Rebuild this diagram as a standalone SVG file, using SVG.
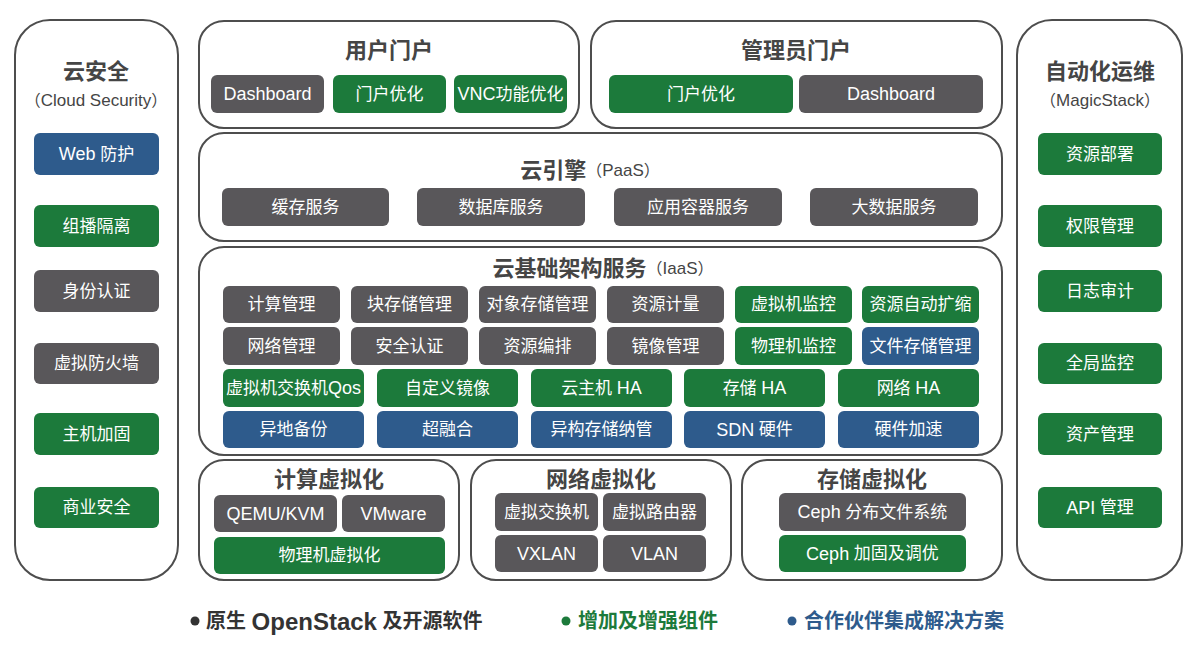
<svg xmlns="http://www.w3.org/2000/svg" width="1200" height="649" viewBox="0 0 1200 649">
<style>
text{font-family:"Liberation Sans","Noto Sans CJK SC",sans-serif;}
.panel{fill:#fff;stroke:#4d4d4d;stroke-width:2;}
.g{fill:#59575a;}
.gr{fill:#1c7a3b;}
.bl{fill:#2e5b8c;}
.bt{fill:#fff;font-size:17px;text-anchor:middle;dominant-baseline:central;}
.l{font-size:18px;}
.ttl{fill:#454545;font-size:22px;font-weight:bold;text-anchor:middle;dominant-baseline:central;}
.sub{fill:#454545;font-size:16px;font-weight:normal;}
.sl{font-size:17px;}
.leg{font-size:20px;font-weight:bold;dominant-baseline:central;}
</style>
<rect width="1200" height="649" fill="#fff"/>
<g id="connectors"/>

<g id="cloud-security">
<rect class="panel" x="15" y="20" width="163" height="560" rx="35"/>
<text class="ttl" x="96" y="71">云安全</text>
<text class="ttl sub" x="96" y="100">（<tspan class="sl">Cloud Security</tspan>）</text>
<rect class="bl" x="34" y="133" width="125" height="42" rx="6"/><text class="bt" x="96.5" y="154"><tspan class="l">Web</tspan> 防护</text>
<rect class="gr" x="34" y="205" width="125" height="42" rx="6"/><text class="bt" x="96.5" y="226">组播隔离</text>
<rect class="g" x="34" y="270" width="125" height="42" rx="6"/><text class="bt" x="96.5" y="291">身份认证</text>
<rect class="g" x="34" y="343" width="125" height="41" rx="6"/><text class="bt" x="96.5" y="363.5">虚拟防火墙</text>
<rect class="gr" x="34" y="413" width="125" height="42" rx="6"/><text class="bt" x="96.5" y="434">主机加固</text>
<rect class="gr" x="34" y="487" width="125" height="41" rx="6"/><text class="bt" x="96.5" y="507.5">商业安全</text>
</g>

<g id="automation">
<rect class="panel" x="1017" y="20" width="165" height="560" rx="35"/>
<text class="ttl" x="1100" y="71">自动化运维</text>
<text class="ttl sub" x="1100" y="100">（<tspan class="sl">MagicStack</tspan>）</text>
<rect class="gr" x="1038" y="133" width="124" height="42" rx="6"/><text class="bt" x="1100" y="154">资源部署</text>
<rect class="gr" x="1038" y="205" width="124" height="42" rx="6"/><text class="bt" x="1100" y="226">权限管理</text>
<rect class="gr" x="1038" y="270" width="124" height="42" rx="6"/><text class="bt" x="1100" y="291">日志审计</text>
<rect class="gr" x="1038" y="343" width="124" height="41" rx="6"/><text class="bt" x="1100" y="363.5">全局监控</text>
<rect class="gr" x="1038" y="413" width="124" height="42" rx="6"/><text class="bt" x="1100" y="434">资产管理</text>
<rect class="gr" x="1038" y="487" width="124" height="41" rx="6"/><text class="bt" x="1100" y="507.5"><tspan class="l">API</tspan> 管理</text>
</g>

<g id="user-portal">
<rect class="panel" x="199" y="21" width="380" height="107" rx="25"/>
<text class="ttl" x="389" y="50">用户门户</text>
<rect class="g" x="211" y="75" width="113" height="38" rx="6"/><text class="bt l" x="267.5" y="94">Dashboard</text>
<rect class="gr" x="333" y="75" width="113" height="38" rx="6"/><text class="bt" x="389.5" y="94">门户优化</text>
<rect class="gr" x="454" y="75" width="113" height="38" rx="6"/><text class="bt" x="510.5" y="94"><tspan class="l">VNC</tspan>功能优化</text>
</g>

<g id="admin-portal">
<rect class="panel" x="591" y="21" width="411" height="107" rx="25"/>
<text class="ttl" x="796" y="50">管理员门户</text>
<rect class="gr" x="609" y="75" width="184" height="38" rx="6"/><text class="bt" x="701" y="94">门户优化</text>
<rect class="g" x="799" y="75" width="184" height="38" rx="6"/><text class="bt l" x="891" y="94">Dashboard</text>
</g>

<g id="paas">
<rect class="panel" x="199" y="133" width="803" height="108" rx="25"/>
<text class="ttl" x="590" y="170">云引擎<tspan class="sub">（<tspan class="sl">PaaS</tspan>）</tspan></text>
<rect class="g" x="222" y="188" width="167" height="38" rx="6"/><text class="bt" x="305.5" y="207">缓存服务</text>
<rect class="g" x="417" y="188" width="168" height="38" rx="6"/><text class="bt" x="501" y="207">数据库服务</text>
<rect class="g" x="614" y="188" width="168" height="38" rx="6"/><text class="bt" x="698" y="207">应用容器服务</text>
<rect class="g" x="810" y="188" width="168" height="38" rx="6"/><text class="bt" x="894" y="207">大数据服务</text>
</g>

<g id="iaas">
<rect class="panel" x="199" y="247" width="803" height="208" rx="25"/>
<text class="ttl" x="603" y="268">云基础架构服务<tspan class="sub">（<tspan class="sl">IaaS</tspan>）</tspan></text>
<rect class="g" x="223" y="286" width="117" height="37" rx="6"/><text class="bt" x="281.5" y="304.5">计算管理</text>
<rect class="g" x="351" y="286" width="117" height="37" rx="6"/><text class="bt" x="409.5" y="304.5">块存储管理</text>
<rect class="g" x="479" y="286" width="117" height="37" rx="6"/><text class="bt" x="537.5" y="304.5">对象存储管理</text>
<rect class="g" x="607" y="286" width="117" height="37" rx="6"/><text class="bt" x="665.5" y="304.5">资源计量</text>
<rect class="gr" x="735" y="286" width="117" height="37" rx="6"/><text class="bt" x="793.5" y="304.5">虚拟机监控</text>
<rect class="gr" x="862" y="286" width="117" height="37" rx="6"/><text class="bt" x="920.5" y="304.5">资源自动扩缩</text>

<rect class="g" x="223" y="327" width="117" height="38" rx="6"/><text class="bt" x="281.5" y="346">网络管理</text>
<rect class="g" x="351" y="327" width="117" height="38" rx="6"/><text class="bt" x="409.5" y="346">安全认证</text>
<rect class="g" x="479" y="327" width="117" height="38" rx="6"/><text class="bt" x="537.5" y="346">资源编排</text>
<rect class="g" x="607" y="327" width="117" height="38" rx="6"/><text class="bt" x="665.5" y="346">镜像管理</text>
<rect class="gr" x="735" y="327" width="117" height="38" rx="6"/><text class="bt" x="793.5" y="346">物理机监控</text>
<rect class="bl" x="862" y="327" width="117" height="38" rx="6"/><text class="bt" x="920.5" y="346">文件存储管理</text>

<rect class="gr" x="223" y="369" width="141" height="38" rx="6"/><text class="bt" x="293.5" y="388">虚拟机交换机<tspan class="l">Qos</tspan></text>
<rect class="gr" x="377" y="369" width="141" height="38" rx="6"/><text class="bt" x="447.5" y="388">自定义镜像</text>
<rect class="gr" x="531" y="369" width="141" height="38" rx="6"/><text class="bt" x="601.5" y="388">云主机 <tspan class="l">HA</tspan></text>
<rect class="gr" x="684" y="369" width="141" height="38" rx="6"/><text class="bt" x="754.5" y="388">存储 <tspan class="l">HA</tspan></text>
<rect class="gr" x="838" y="369" width="141" height="38" rx="6"/><text class="bt" x="908.5" y="388">网络 <tspan class="l">HA</tspan></text>

<rect class="bl" x="223" y="411" width="141" height="37" rx="6"/><text class="bt" x="293.5" y="429.5">异地备份</text>
<rect class="bl" x="377" y="411" width="141" height="37" rx="6"/><text class="bt" x="447.5" y="429.5">超融合</text>
<rect class="bl" x="531" y="411" width="141" height="37" rx="6"/><text class="bt" x="601.5" y="429.5">异构存储纳管</text>
<rect class="bl" x="684" y="411" width="141" height="37" rx="6"/><text class="bt" x="754.5" y="429.5"><tspan class="l">SDN</tspan> 硬件</text>
<rect class="bl" x="838" y="411" width="141" height="37" rx="6"/><text class="bt" x="908.5" y="429.5">硬件加速</text>
</g>

<g id="compute-virt">
<rect class="panel" x="199" y="460" width="260" height="120" rx="25"/>
<text class="ttl" x="329" y="479">计算虚拟化</text>
<rect class="g" x="214" y="495" width="123" height="37" rx="6"/><text class="bt l" x="275.5" y="513.5">QEMU/KVM</text>
<rect class="g" x="342" y="495" width="103" height="37" rx="6"/><text class="bt l" x="393.5" y="513.5">VMware</text>
<rect class="gr" x="214" y="537" width="231" height="37" rx="6"/><text class="bt" x="329.5" y="555.5">物理机虚拟化</text>
</g>

<g id="network-virt">
<rect class="panel" x="471" y="460" width="260" height="120" rx="25"/>
<text class="ttl" x="601" y="479">网络虚拟化</text>
<rect class="g" x="495" y="493" width="103" height="38" rx="6"/><text class="bt" x="546.5" y="512">虚拟交换机</text>
<rect class="g" x="603" y="493" width="103" height="38" rx="6"/><text class="bt" x="654.5" y="512">虚拟路由器</text>
<rect class="g" x="495" y="535" width="103" height="37" rx="6"/><text class="bt l" x="546.5" y="553.5">VXLAN</text>
<rect class="g" x="603" y="535" width="103" height="37" rx="6"/><text class="bt l" x="654.5" y="553.5">VLAN</text>
</g>

<g id="storage-virt">
<rect class="panel" x="742" y="460" width="260" height="120" rx="25"/>
<text class="ttl" x="872" y="479">存储虚拟化</text>
<rect class="g" x="779" y="493" width="187" height="38" rx="6"/><text class="bt" x="872.5" y="512"><tspan class="l">Ceph</tspan> 分布文件系统</text>
<rect class="gr" x="779" y="535" width="187" height="37" rx="6"/><text class="bt" x="872.5" y="553.5"><tspan class="l">Ceph</tspan> 加固及调优</text>
</g>

<g id="legend">
<circle cx="195" cy="621" r="4.5" fill="#333"/>
<text class="leg" x="206" y="621" fill="#333">原生 <tspan style="font-size:24px">OpenStack</tspan> 及开源软件</text>
<circle cx="566" cy="621" r="4.5" fill="#1c7a3b"/>
<text class="leg" x="578" y="621" fill="#1c7a3b">增加及增强组件</text>
<circle cx="792" cy="621" r="4.5" fill="#2e5b8c"/>
<text class="leg" x="804" y="621" fill="#2e5b8c">合作伙伴集成解决方案</text>
</g>
</svg>
